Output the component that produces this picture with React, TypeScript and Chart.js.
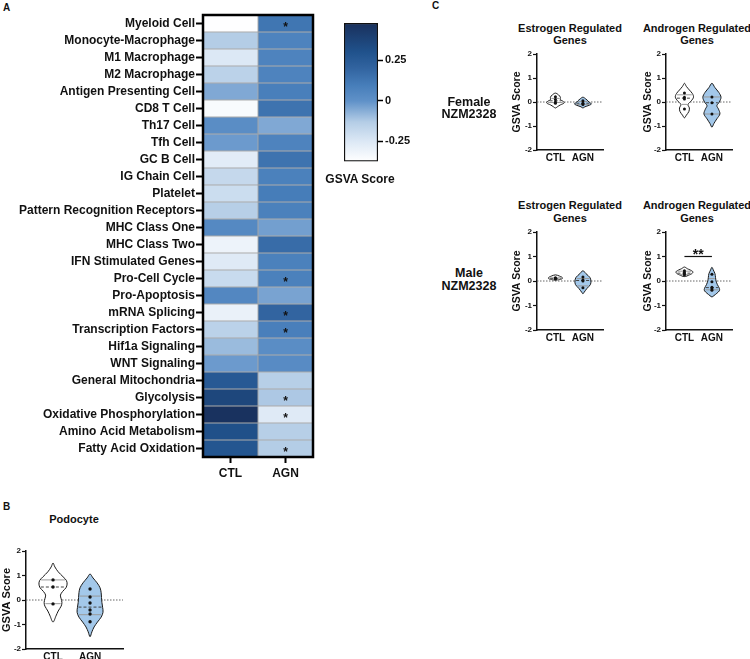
import React, { useEffect, useRef } from "react";
import { Chart, registerables } from "chart.js";
Chart.register(...registerables);

const FONT = "'Liberation Sans', Arial, Helvetica, sans-serif";

// ---------- Panel A data ----------
const heatRows = [
  "Myeloid Cell", "Monocyte-Macrophage", "M1 Macrophage", "M2 Macrophage", "Antigen Presenting Cell",
  "CD8 T Cell", "Th17 Cell", "Tfh Cell", "GC B Cell", "IG Chain Cell", "Platelet",
  "Pattern Recognition Receptors", "MHC Class One", "MHC Class Two", "IFN Stimulated Genes",
  "Pro-Cell Cycle", "Pro-Apoptosis", "mRNA Splicing", "Transcription Factors", "Hif1a Signaling",
  "WNT Signaling", "General Mitochondria", "Glycolysis", "Oxidative Phosphorylation",
  "Amino Acid Metabolism", "Fatty Acid Oxidation",
];
const heatColumns = ["CTL", "AGN"];
const ctlScores = [
  -0.37, -0.13, -0.25, -0.15, -0.05, -0.35, 0.02, -0.02, -0.27, -0.18, -0.2, -0.14, 0.04,
  -0.31, -0.26, -0.19, 0.05, -0.3, -0.15, -0.09, -0.02, 0.26, 0.36, 0.47, 0.31, 0.28,
];
const agnScores = [
  0.13, 0.07, 0.07, 0.07, 0.09, 0.14, -0.05, 0.07, 0.14, 0.08, 0.1, 0.08, -0.03, 0.17, 0.08,
  0.08, -0.04, 0.2, 0.09, 0.02, 0.03, -0.14, -0.12, -0.26, -0.14, -0.13,
];
const agnSignificant = [
  true, false, false, false, false, false, false, false, false, false, false, false, false,
  false, false, true, false, true, true, false, false, false, true, true, false, true,
];
const colorbarRange = [-0.373, 0.48];
const colorbarTicks = [-0.25, 0, 0.25];

// ---------- Violin data (levels = GSVA score, widths = half width in group units) ----------
const groups = ["CTL", "AGN"];

const podocyteLevels = [
  [1.51, 1.35, 1.15, 0.95, 0.8, 0.65, 0.5, 0.35, 0.2, 0.05, -0.1, -0.25, -0.45, -0.65, -0.9],
  [1.06, 0.9, 0.7, 0.5, 0.3, 0.1, -0.1, -0.3, -0.5, -0.7, -0.9, -1.1, -1.3, -1.5],
];
const podocyteWidths = [
  [0, 0.05, 0.14, 0.27, 0.36, 0.38, 0.35, 0.26, 0.2, 0.22, 0.24, 0.22, 0.14, 0.08, 0],
  [0, 0.08, 0.19, 0.27, 0.3, 0.31, 0.32, 0.34, 0.35, 0.3, 0.2, 0.11, 0.05, 0],
];
const podocytePoints = [
  [0.82, 0.53, -0.16],
  [0.45, 0.12, -0.12, -0.41, -0.57, -0.89],
];
const podocyteQuartiles = [
  [-0.15, 0.53, 0.82],
  [-0.6, -0.29, 0.16],
];

const femaleEstrogenLevels = [
  [0.37, 0.3, 0.2, 0.1, 0.02, -0.05, -0.12, -0.2, -0.25],
  [0.2, 0.12, 0.05, -0.03, -0.08, -0.14, -0.2, -0.25],
];
const femaleEstrogenWidths = [
  [0, 0.11, 0.18, 0.18, 0.29, 0.31, 0.18, 0.07, 0],
  [0, 0.11, 0.18, 0.25, 0.31, 0.22, 0.07, 0],
];
const femaleEstrogenPoints = [
  [0.22, 0.1, 0.0, -0.05],
  [0.05, -0.05, -0.1],
];
const femaleEstrogenQuartiles = [
  [-0.02, 0.05, 0.15],
  [-0.1, -0.05, 0.02],
];

const femaleAndrogenLevels = [
  [0.78, 0.65, 0.5, 0.35, 0.2, 0.05, -0.1, -0.25, -0.4, -0.55, -0.66],
  [0.78, 0.6, 0.4, 0.2, 0.0, -0.15, -0.3, -0.5, -0.7, -0.9, -1.05],
];
const femaleAndrogenWidths = [
  [0, 0.07, 0.18, 0.29, 0.33, 0.25, 0.13, 0.18, 0.16, 0.07, 0],
  [0, 0.11, 0.25, 0.33, 0.27, 0.18, 0.24, 0.29, 0.18, 0.07, 0],
];
const femaleAndrogenPoints = [
  [0.37, 0.2, 0.12, -0.29],
  [0.21, -0.03, -0.5],
];
const femaleAndrogenQuartiles = [
  [-0.1, 0.16, 0.3],
  [-0.5, -0.03, 0.21],
];

const maleEstrogenLevels = [
  [0.25, 0.2, 0.14, 0.08, 0.04],
  [0.42, 0.3, 0.15, 0.0, -0.15, -0.3, -0.45, -0.52],
];
const maleEstrogenWidths = [
  [0, 0.15, 0.25, 0.22, 0],
  [0, 0.11, 0.25, 0.29, 0.27, 0.15, 0.05, 0],
];
const maleEstrogenPoints = [
  [0.13, 0.1, 0.08],
  [0.16, 0.04, 0.0, -0.28],
];
const maleEstrogenQuartiles = [
  [0.08, 0.1, 0.13],
  [-0.2, 0.02, 0.1],
];

const maleAndrogenLevels = [
  [0.57, 0.5, 0.4, 0.32, 0.25, 0.18],
  [0.56, 0.45, 0.3, 0.15, 0.0, -0.15, -0.3, -0.4, -0.5, -0.6, -0.65],
];
const maleAndrogenWidths = [
  [0, 0.11, 0.29, 0.29, 0.18, 0],
  [0, 0.05, 0.11, 0.13, 0.15, 0.2, 0.27, 0.27, 0.18, 0.07, 0],
];
const maleAndrogenPoints = [
  [0.42, 0.35, 0.3, 0.25],
  [0.28, -0.03, -0.25, -0.32, -0.38],
];
const maleAndrogenQuartiles = [
  [0.27, 0.32, 0.4],
  [-0.36, -0.27, 0.1],
];
const maleAndrogenSignificance = "**";

// ---------- colours ----------
const colorStops: [number, string][] = [
  [-0.373, "#ffffff"],
  [-0.25, "#dce8f5"],
  [-0.13, "#b4cde6"],
  [0, "#5f91c8"],
  [0.1, "#467db9"],
  [0.2, "#3264a0"],
  [0.3, "#20528c"],
  [0.48, "#19305c"],
];
function hexToRgb(h: string) {
  return [parseInt(h.slice(1, 3), 16), parseInt(h.slice(3, 5), 16), parseInt(h.slice(5, 7), 16)];
}
function scoreColor(v: number) {
  if (v <= colorStops[0][0]) return colorStops[0][1];
  for (let i = 1; i < colorStops.length; i++) {
    if (v <= colorStops[i][0]) {
      const [v0, c0] = colorStops[i - 1];
      const [v1, c1] = colorStops[i];
      const t = (v - v0) / (v1 - v0);
      const a = hexToRgb(c0), b = hexToRgb(c1);
      const c = a.map((x, k) => Math.round(x + (b[k] - x) * t));
      return `rgb(${c[0]},${c[1]},${c[2]})`;
    }
  }
  return colorStops[colorStops.length - 1][1];
}

// ---------- helpers ----------
function useChart(ref: React.RefObject<HTMLCanvasElement>, make: () => any) {
  useEffect(() => {
    if (!ref.current) return;
    const c = new Chart(ref.current, make());
    return () => c.destroy();
  }, []);
}

const heatPlugin = {
  id: "heatExtras",
  afterDatasetsDraw(chart: any) {
    const { ctx, chartArea: ca, scales } = chart;
    ctx.save();
    ctx.fillStyle = "#111";
    ctx.font = `bold 12px ${FONT}`;
    ctx.textAlign = "center";
    ctx.textBaseline = "alphabetic";
    agnSignificant.forEach((s, i) => {
      if (!s) return;
      ctx.fillText("*", scales.x.getPixelForValue(1.5), scales.y.getPixelForValue(i) + 7);
    });
    ctx.strokeStyle = "#000";
    ctx.lineWidth = 2.5;
    ctx.strokeRect(ca.left, ca.top, ca.right - ca.left, ca.bottom - ca.top);
    ctx.restore();
  },
};

function Heatmap() {
  const ref = useRef<HTMLCanvasElement>(null);
  useChart(ref, () => ({
    type: "bar",
    data: {
      labels: heatRows,
      datasets: [ctlScores, agnScores].map((scores, col) => ({
        label: heatColumns[col],
        data: heatRows.map(() => [col, col + 1]),
        backgroundColor: scores.map(scoreColor),
        borderColor: "rgba(30,30,30,0.35)",
        borderWidth: 0.8,
        borderSkipped: false,
        barPercentage: 1,
        categoryPercentage: 1,
        grouped: false,
      })),
    },
    options: {
      animation: false,
      responsive: false,
      indexAxis: "y",
      layout: { padding: { top: 15, right: 9, left: 0, bottom: 0 } },
      plugins: { legend: { display: false }, tooltip: { enabled: false } },
      scales: {
        x: {
          type: "linear",
          min: 0,
          max: 2,
          afterBuildTicks: (s: any) => {
            s.ticks = heatColumns.map((_, i) => ({ value: i + 0.5 }));
          },
          afterFit: (s: any) => { s.height = 33; },
          ticks: {
            callback: (v: number) => heatColumns[Math.floor(v)],
            color: "#111",
            font: { family: FONT, size: 12, weight: "bold" },
            padding: 3,
            maxRotation: 0,
          },
          grid: { drawOnChartArea: false, tickLength: 6, tickWidth: 2, color: "#000" },
          border: { display: false },
        },
        y: {
          afterFit: (s: any) => { s.width = 203; },
          ticks: {
            autoSkip: false,
            color: "#111",
            font: { family: FONT, size: 12, weight: "bold" },
            padding: 1,
          },
          grid: { offset: false, drawOnChartArea: false, tickLength: 7, tickWidth: 2, color: "#000" },
          border: { display: false },
        },
      },
    },
    plugins: [heatPlugin],
  }));
  return (
    <canvas ref={ref} width={322} height={490}
      style={{ position: "absolute", left: 0, top: 0, width: 322, height: 490 }} />
  );
}

function Colorbar() {
  const ref = useRef<HTMLCanvasElement>(null);
  const [mn, mx] = colorbarRange;
  useChart(ref, () => ({
    type: "bar",
    data: {
      labels: [""],
      datasets: [{
        data: [colorbarRange],
        backgroundColor: (c: any) => {
          const ch = c.chart;
          if (!ch.chartArea) return "#fff";
          const ys = ch.scales.y;
          const g = ch.ctx.createLinearGradient(0, ys.getPixelForValue(mn), 0, ys.getPixelForValue(mx));
          colorStops.forEach(([v, col]) => g.addColorStop(Math.min(1, Math.max(0, (v - mn) / (mx - mn))), col));
          return g;
        },
        borderColor: "#111",
        borderWidth: 1.5,
        borderSkipped: false,
        barPercentage: 1,
        categoryPercentage: 1,
      }],
    },
    options: {
      animation: false,
      responsive: false,
      layout: { padding: { top: 13, left: 9, bottom: 8, right: 0 } },
      plugins: { legend: { display: false }, tooltip: { enabled: false } },
      scales: {
        x: { display: false },
        y: {
          position: "right",
          min: mn,
          max: mx,
          afterBuildTicks: (s: any) => { s.ticks = colorbarTicks.map((v) => ({ value: v })); },
          afterFit: (s: any) => { s.width = 42; },
          ticks: {
            callback: (v: number) => (v === 0 ? "0" : String(v)),
            color: "#111",
            font: { family: FONT, size: 11, weight: "bold" },
            padding: 2,
          },
          grid: { drawOnChartArea: false, tickLength: 5, tickWidth: 1.5, color: "#000" },
          border: { display: false },
        },
      },
    },
  }));
  return (
    <canvas ref={ref} width={85} height={160}
      style={{ position: "absolute", left: 335, top: 10, width: 85, height: 160 }} />
  );
}

function interpWidth(levels: number[], widths: number[], v: number) {
  for (let i = 0; i < levels.length - 1; i++) {
    const a = levels[i], b = levels[i + 1];
    if ((v <= a && v >= b) || (v >= a && v <= b)) {
      const t = (v - a) / (b - a || 1);
      return widths[i] + (widths[i + 1] - widths[i]) * t;
    }
  }
  return 0;
}

const violinPlugin = {
  id: "violins",
  beforeDatasetsDraw(chart: any, _args: any, opts: any) {
    const { ctx, chartArea: ca, scales } = chart;
    const { x, y } = scales;
    ctx.save();
    // dotted zero line
    ctx.strokeStyle = "#666";
    ctx.lineWidth = 1;
    ctx.setLineDash([1.5, 1.5]);
    const y0 = y.getPixelForValue(0);
    ctx.beginPath();
    ctx.moveTo(ca.left, y0);
    ctx.lineTo(ca.right, y0);
    ctx.stroke();
    ctx.setLineDash([]);
    opts.items.forEach((it: any, gi: number) => {
      const cx = gi + 1;
      const right = it.levels.map((lv: number, k: number) => [x.getPixelForValue(cx + it.widths[k]), y.getPixelForValue(lv)]);
      const left = it.levels.map((lv: number, k: number) => [x.getPixelForValue(cx - it.widths[k]), y.getPixelForValue(lv)]).reverse();
      const pts = right.concat(left.slice(1, -1));
      const n = pts.length;
      ctx.beginPath();
      ctx.moveTo(pts[0][0], pts[0][1]);
      for (let i = 0; i < n; i++) {
        const p0 = pts[(i - 1 + n) % n], p1 = pts[i], p2 = pts[(i + 1) % n], p3 = pts[(i + 2) % n];
        const c1x = p1[0] + (p2[0] - p0[0]) / 6, c1y = p1[1] + (p2[1] - p0[1]) / 6;
        const c2x = p2[0] - (p3[0] - p1[0]) / 6, c2y = p2[1] - (p3[1] - p1[1]) / 6;
        ctx.bezierCurveTo(c1x, c1y, c2x, c2y, p2[0], p2[1]);
      }
      ctx.closePath();
      ctx.fillStyle = gi === 0 ? "#ffffff" : "#a3c8ea";
      ctx.fill();
      ctx.strokeStyle = "#1a1a1a";
      ctx.lineWidth = 1;
      ctx.stroke();
      // quartile lines
      it.quartiles.forEach((q: number, qi: number) => {
        const w = interpWidth(it.levels, it.widths, q);
        const yy = y.getPixelForValue(q);
        ctx.beginPath();
        ctx.setLineDash(qi === 1 ? [3, 2] : []);
        ctx.strokeStyle = qi === 1 ? "#444" : "#9a9a9a";
        ctx.lineWidth = 1;
        ctx.moveTo(x.getPixelForValue(cx - w) + 1, yy);
        ctx.lineTo(x.getPixelForValue(cx + w) - 1, yy);
        ctx.stroke();
        ctx.setLineDash([]);
      });
    });
    ctx.restore();
  },
  afterDatasetsDraw(chart: any, _args: any, opts: any) {
    if (!opts.sig) return;
    const { ctx, scales: { x, y } } = chart;
    ctx.save();
    ctx.strokeStyle = "#111";
    ctx.lineWidth = 1.2;
    ctx.beginPath();
    ctx.moveTo(x.getPixelForValue(1), y.getPixelForValue(1.0));
    ctx.lineTo(x.getPixelForValue(2), y.getPixelForValue(1.0));
    ctx.stroke();
    ctx.fillStyle = "#111";
    ctx.font = `bold 14px ${FONT}`;
    ctx.textAlign = "center";
    ctx.textBaseline = "alphabetic";
    ctx.fillText(opts.sig, x.getPixelForValue(1.5), y.getPixelForValue(1.0) + 2);
    ctx.restore();
  },
};

type ViolinProps = {
  levels: number[][]; widths: number[][]; points: number[][]; quartiles: number[][];
  left: number; top: number; width: number; height: number;
  axisWidth: number; padTop: number; padRight: number; xAxisHeight: number;
  xMin: number; xMax: number; sig?: string; titleSize: number; pointRadius: number;
};

function Violin(p: ViolinProps) {
  const ref = useRef<HTMLCanvasElement>(null);
  useChart(ref, () => ({
    type: "scatter",
    data: {
      datasets: p.points.map((pts, gi) => ({
        data: pts.map((v) => ({ x: gi + 1, y: v })),
        pointRadius: p.pointRadius,
        pointBackgroundColor: "#111",
        pointBorderWidth: 0,
      })),
    },
    options: {
      animation: false,
      responsive: false,
      layout: { padding: { top: p.padTop, right: p.padRight, left: 0, bottom: 0 } },
      plugins: {
        legend: { display: false },
        tooltip: { enabled: false },
        violins: {
          items: p.levels.map((lv, gi) => ({
            levels: lv, widths: p.widths[gi], quartiles: p.quartiles[gi],
          })),
          sig: p.sig,
        },
      },
      scales: {
        x: {
          type: "linear",
          min: p.xMin,
          max: p.xMax,
          afterBuildTicks: (s: any) => { s.ticks = groups.map((_, i) => ({ value: i + 1 })); },
          afterFit: (s: any) => { s.height = p.xAxisHeight; },
          ticks: {
            callback: (v: number) => groups[v - 1],
            color: "#111",
            font: { family: FONT, size: 10, weight: "bold" },
            padding: 2,
            maxRotation: 0,
          },
          grid: { drawOnChartArea: false, drawTicks: false },
          border: { display: true, color: "#111", width: 1.5 },
        },
        y: {
          min: -2,
          max: 2,
          afterFit: (s: any) => { s.width = p.axisWidth; },
          ticks: {
            stepSize: 1,
            color: "#111",
            font: { family: FONT, size: 8, weight: "bold" },
            padding: 1,
          },
          title: {
            display: true,
            text: "GSVA Score",
            color: "#111",
            font: { family: FONT, size: p.titleSize, weight: "bold" },
            padding: { top: 0, bottom: 0 },
          },
          grid: { drawOnChartArea: false, tickLength: 4, tickWidth: 1.2, color: "#111" },
          border: { display: true, color: "#111", width: 1.5 },
        },
      },
    },
    plugins: [violinPlugin],
  }));
  return (
    <canvas ref={ref} width={p.width} height={p.height}
      style={{ position: "absolute", left: p.left, top: p.top, width: p.width, height: p.height }} />
  );
}

function Text(props: { cx?: number; left?: number; cy: number; size: number; lines: string[]; lh?: number }) {
  const lh = props.lh ?? props.size * 1.15;
  const w = 220;
  const style: React.CSSProperties = {
    position: "absolute",
    top: props.cy - lh / 2,
    fontFamily: FONT,
    fontWeight: "bold",
    fontSize: props.size,
    lineHeight: `${lh}px`,
    color: "#111",
    whiteSpace: "nowrap",
  };
  if (props.cx !== undefined) {
    style.left = props.cx - w / 2;
    style.width = w;
    style.textAlign = "center";
  } else {
    style.left = props.left;
  }
  return (
    <div style={style}>
      {props.lines.map((l, i) => <div key={i}>{l}</div>)}
    </div>
  );
}

export default function App() {
  const cCommon = { xMin: 0.33, xMax: 2.73, titleSize: 10.5, pointRadius: 1.5, width: 0, height: 125 };
  return (
    <div style={{ position: "absolute", left: 0, top: 0, width: 750, height: 659, background: "#fff", overflow: "hidden" }}>
      <Text left={3} cy={8} size={10} lines={["A"]} />
      <Heatmap />
      <Colorbar />
      <Text cx={360} cy={180} size={12} lines={["GSVA Score"]} />

      <Text left={3} cy={507} size={10} lines={["B"]} />
      <Text cx={74} cy={519} size={11} lines={["Podocyte"]} />
      <Violin levels={podocyteLevels} widths={podocyteWidths} points={podocytePoints} quartiles={podocyteQuartiles}
        left={0} top={528} width={140} height={131} axisWidth={26} padTop={23} padRight={17} xAxisHeight={10}
        xMin={0.27} xMax={2.89} titleSize={11} pointRadius={1.7} />

      <Text left={432} cy={6} size={10} lines={["C"]} />
      <Text cx={570} cy={28} size={11} lh={12} lines={["Estrogen Regulated", "Genes"]} />
      <Text cx={697} cy={28} size={11} lh={12} lines={["Androgen Regulated", "Genes"]} />
      <Text cx={570} cy={205.5} size={11} lh={12.5} lines={["Estrogen Regulated", "Genes"]} />
      <Text cx={697} cy={205.5} size={11} lh={12.5} lines={["Androgen Regulated", "Genes"]} />
      <Text cx={469} cy={102} size={12.5} lh={12.5} lines={["Female", "NZM2328"]} />
      <Text cx={469} cy={273.5} size={12.5} lh={13} lines={["Male", "NZM2328"]} />

      <Violin {...cCommon} levels={femaleEstrogenLevels} widths={femaleEstrogenWidths} points={femaleEstrogenPoints}
        quartiles={femaleEstrogenQuartiles} left={511} top={40} width={110} axisWidth={26} padTop={14} padRight={18} xAxisHeight={15} />
      <Violin {...cCommon} levels={femaleAndrogenLevels} widths={femaleAndrogenWidths} points={femaleAndrogenPoints}
        quartiles={femaleAndrogenQuartiles} left={642} top={40} width={108} axisWidth={24} padTop={14} padRight={18} xAxisHeight={15} />
      <Violin {...cCommon} levels={maleEstrogenLevels} widths={maleEstrogenWidths} points={maleEstrogenPoints}
        quartiles={maleEstrogenQuartiles} left={511} top={218} width={110} axisWidth={26} padTop={14} padRight={18} xAxisHeight={13} />
      <Violin {...cCommon} levels={maleAndrogenLevels} widths={maleAndrogenWidths} points={maleAndrogenPoints}
        quartiles={maleAndrogenQuartiles} left={642} top={218} width={108} axisWidth={24} padTop={14} padRight={18} xAxisHeight={13}
        sig={maleAndrogenSignificance} />
    </div>
  );
}
